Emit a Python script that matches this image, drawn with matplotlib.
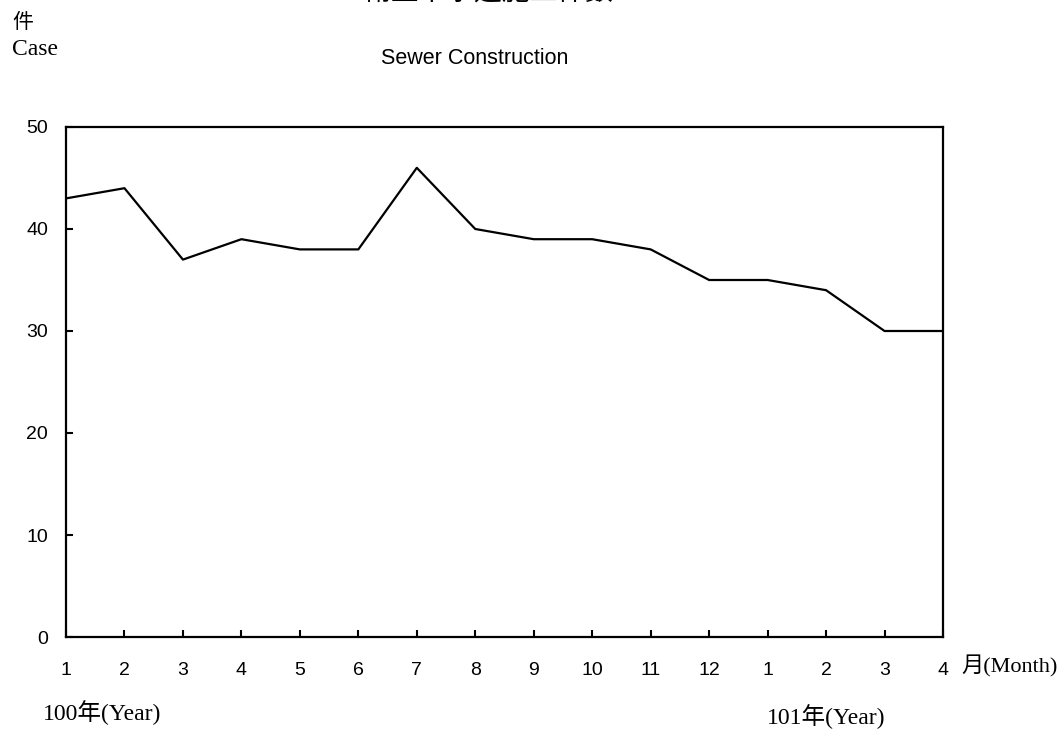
import matplotlib
matplotlib.use('Agg')
import matplotlib.pyplot as plt

# Monthly sewer construction cases, 100/1 .. 101/4
months = ['1', '2', '3', '4', '5', '6', '7', '8', '9', '10', '11', '12', '1', '2', '3', '4']
cases = [43, 44, 37, 39, 38, 38, 46, 40, 39, 39, 38, 35, 35, 34, 30, 30]
y_ticks = [0, 10, 20, 30, 40, 50]

sans = ['Liberation Sans', 'Noto Sans CJK TC']
serif = ['Liberation Serif', 'Noto Sans CJK TC']

fig = plt.figure(figsize=(10.63, 7.31), dpi=100)
ax = fig.add_axes([66 / 1063, 1 - 637 / 731, (943 - 66) / 1063, (637 - 127) / 731])

x = list(range(len(months)))
ax.plot(x, cases, color='black', linewidth=1.6)

ax.set_xlim(0, len(months) - 1)
ax.set_ylim(0, 50)
ax.set_xticks(x)
ax.set_xticklabels(months, fontfamily=sans, fontsize=14)
ax.set_yticks(y_ticks)
ax.set_yticklabels([str(v) for v in y_ticks], fontfamily=sans, fontsize=14)
ax.tick_params(axis='x', direction='in', length=5, width=1.5, pad=18)
ax.tick_params(axis='y', direction='in', length=5, width=1.5, pad=13)
for s in ax.spines.values():
    s.set_linewidth(1.6)

# titles and side labels (the Chinese title sits mostly above the canvas, as in the source)
fig.text(488 / 1063, 1 - 1 / 731, '衛生下水道施工件數', fontfamily=sans, fontsize=20,
         ha='center', va='baseline', color='black')
fig.text(475 / 1063, 1 - 58 / 731, 'Sewer Construction', fontfamily=sans, fontsize=15.5,
         ha='center', va='center')
fig.text(12 / 1063, 1 - 23 / 731, '件', fontfamily=serif, fontsize=15, ha='left', va='center')
fig.text(12 / 1063, 1 - 55 / 731, 'Case', fontfamily=serif, fontsize=17, ha='left', va='baseline')
fig.text(961 / 1063, 1 - 666 / 731, '月(Month)', fontfamily=serif, fontsize=16, ha='left', va='center')
fig.text(43 / 1063, 1 - 720 / 731, '100年(Year)', fontfamily=serif, fontsize=17, ha='left', va='baseline')
fig.text(767 / 1063, 1 - 724 / 731, '101年(Year)', fontfamily=serif, fontsize=17, ha='left', va='baseline')

fig.savefig('out.png', dpi=100)
